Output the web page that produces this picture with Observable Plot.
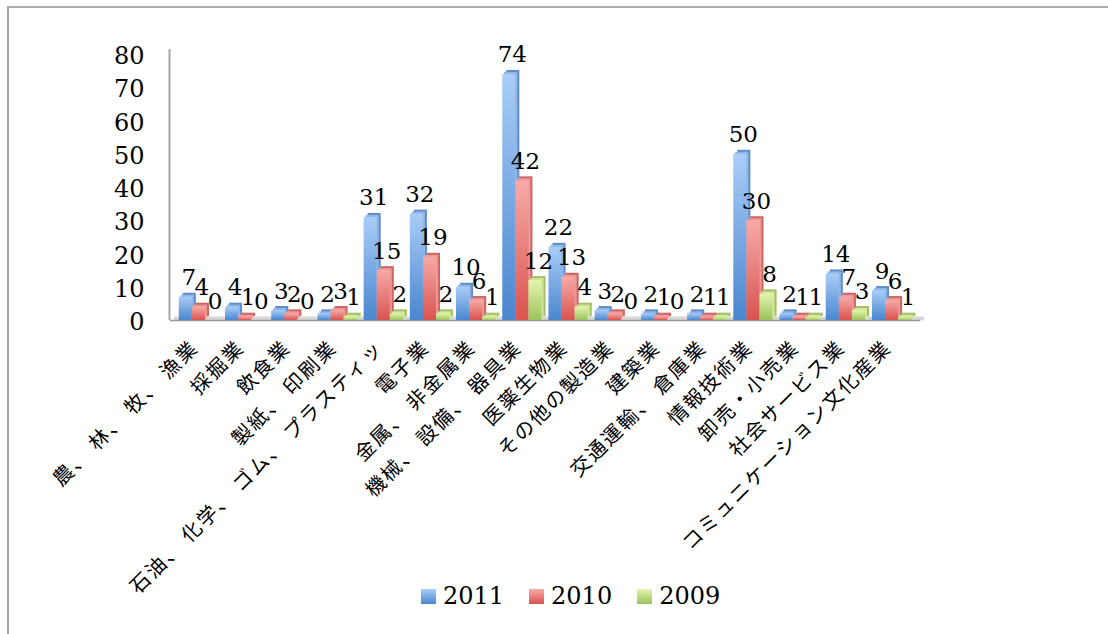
<!DOCTYPE html>
<html>
<head>
<meta charset="utf-8">
<script src="https://cdn.jsdelivr.net/npm/d3@7"></script>
<script src="https://cdn.jsdelivr.net/npm/@observablehq/plot@0.6"></script>
<style>
  html, body { margin: 0; padding: 0; background: #fff; }
  #wrap { position: relative; width: 1108px; height: 634px; overflow: hidden; }
  #border { position: absolute; left: 7px; top: 6px; width: 1200px; height: 700px;
            border-left: 2px solid #a6a6a6; border-top: 2px solid #b0b0b0; }
  #chart { position: absolute; left: 0; top: 0; }
  #legend { position: absolute; left: 421px; top: 582px; display: flex; align-items: center;
            font-family: "DejaVu Serif", serif; font-size: 24px; color: #000; }
  #legend .item { display: flex; align-items: center; margin-right: 25px; }
  #legend .sw { width: 15px; height: 15px; margin-right: 7px; }
  g[aria-label="x-axis tick label"] text { letter-spacing: 2px; }
</style>
</head>
<body>
<div id="wrap">
  <div id="border"></div>
  <div id="chart"></div>
  <div id="legend"></div>
</div>
<script>
const categories = [
  "農、林、牧、漁業", "採掘業", "飲食業", "製紙、印刷業", "石油、化学、ゴム、プラスティッ",
  "電子業", "金属、非金属業", "機械、設備、器具業", "医薬生物業", "その他の製造業",
  "建築業", "交通運輸、倉庫業", "情報技術業", "卸売・小売業", "社会サービス業",
  "コミュニケーション文化産業"
];
const seriesNames = ["2011", "2010", "2009"];
const values2011 = [7, 4, 3, 2, 31, 32, 10, 74, 22, 3, 2, 2, 50, 2, 14, 9];
const values2010 = [4, 1, 2, 3, 15, 19, 6, 42, 13, 2, 1, 1, 30, 1, 7, 6];
const values2009 = [0, 0, 0, 1, 2, 2, 1, 12, 4, 0, 0, 1, 8, 1, 3, 1];
const yTicks = [0, 10, 20, 30, 40, 50, 60, 70, 80];

const seriesValues = [values2011, values2010, values2009];
const tables = seriesValues.map((vals, i) =>
  categories.map((c, j) => ({cat: c, v: vals[j], series: seriesNames[i]})));

const gradTop = ["#a9cdf7", "#f7aaa8", "#e3f5b0"];
const gradBot = ["#4a86cf", "#d9534f", "#9cc25a"];
const sideCol = ["#5f8fcb", "#cc6663", "#a3c065"];
const topCol = ["#8fb6e6", "#ef9896", "#d2e79a"];

const W = 1108, H = 570, mL = 170, mR = 188, mT = 54, mB = 250;
const pIn = 0.15, pOut = 0.19;
const band = d3.scaleBand(categories, [mL, W - mR]).paddingInner(pIn).paddingOuter(pOut);
const bw = band.bandwidth();
const w = bw / 3;
const axisDx = -(band(categories[0]) + bw / 2 - mL) - 1;
const depth = 4;

const defsMark = () => {
  const g = d3.create("svg:g");
  const defs = g.append("defs");
  seriesNames.forEach((s, i) => {
    const lg = defs.append("linearGradient").attr("id", "grad" + i)
      .attr("x1", 0).attr("y1", 0).attr("x2", 0).attr("y2", 1);
    lg.append("stop").attr("offset", "0%").attr("stop-color", gradTop[i]);
    lg.append("stop").attr("offset", "100%").attr("stop-color", gradBot[i]);
  });
  return g.node();
};

const barMarks = [];
tables.forEach((t, i) => {
  const common = {x: "cat", y: "v", insetLeft: i * w, insetRight: bw - (i + 1) * w};
  barMarks.push(Plot.barY(t, {...common, dx: depth, dy: -depth, fill: sideCol[i]}));
  barMarks.push(Plot.barY(t, {...common, dx: depth / 2, dy: -depth / 2, fill: topCol[i]}));
  barMarks.push(Plot.barY(t, {...common, fill: `url(#grad${i})`}));
});
const labelMarks = tables.map((t, i) =>
  Plot.text(t, {x: "cat", y: "v", text: d => String(d.v), dx: (i - 1) * w + 3, dy: -12,
    lineAnchor: "bottom", fontSize: 23, fontFamily: "DejaVu Serif", fill: "#000"}));

const chart = Plot.plot({
  width: W, height: H,
  marginLeft: mL, marginRight: mR, marginTop: mT, marginBottom: mB,
  x: {type: "band", domain: categories, paddingInner: pIn, paddingOuter: pOut, round: false, axis: null},
  y: {domain: [0, 80], axis: null},
  style: {background: "transparent", overflow: "visible"},
  marks: [
    defsMark,
    Plot.ruleY([0], {stroke: "#d6d6d6", strokeWidth: 4, dy: -2, dx: 4}),
    Plot.ruleY([0], {stroke: "#9a9a9a", strokeWidth: 1.5, dx: 0}),
    Plot.ruleX([categories[0]], {y1: 0, y2: 81.5, dx: axisDx, stroke: "#a6a6a6", strokeWidth: 2}),
    ...barMarks,
    ...labelMarks,
    Plot.axisY({ticks: yTicks, tickSize: 0, tickPadding: 26, fontSize: 24, label: null,
      fontFamily: "DejaVu Serif", dy: 2}),
    Plot.axisX({tickSize: 0, tickPadding: 24, tickRotate: -45, fontSize: 20, label: null,
      fontFamily: "Noto Sans CJK JP", dx: -4,
      tickFormat: d => d.replaceAll("、", "、 ")})
  ]
});
document.getElementById("chart").appendChild(chart);

const legend = document.getElementById("legend");
seriesNames.forEach((s, i) => {
  const item = document.createElement("div");
  item.className = "item";
  const sw = document.createElement("div");
  sw.className = "sw";
  sw.style.background = `linear-gradient(${gradTop[i]}, ${gradBot[i]})`;
  const tx = document.createElement("span");
  tx.textContent = s;
  item.appendChild(sw); item.appendChild(tx);
  legend.appendChild(item);
});
</script>
</body>
</html>
